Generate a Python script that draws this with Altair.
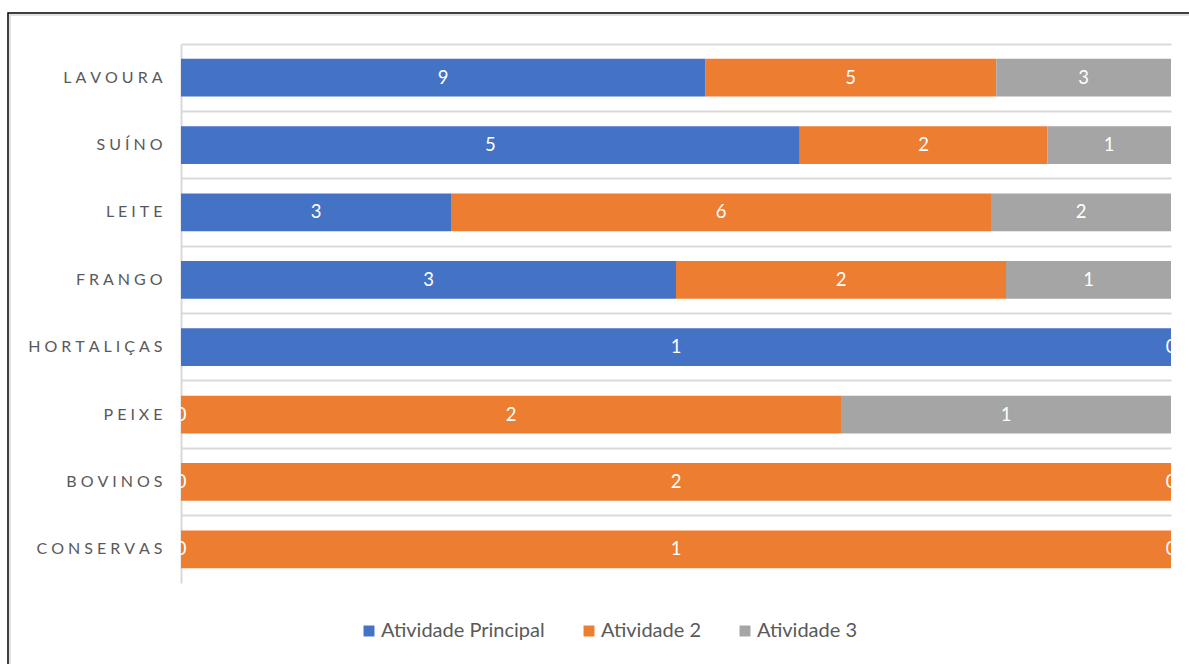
import altair as alt
import pandas as pd

categories = ["LAVOURA", "SUÍNO", "LEITE", "FRANGO", "HORTALIÇAS", "PEIXE", "BOVINOS", "CONSERVAS"]
series = ["Atividade Principal", "Atividade 2", "Atividade 3"]
principal = [9, 5, 3, 3, 1, 0, 0, 0]
atividade2 = [5, 2, 6, 2, None, 2, 2, 1]
atividade3 = [3, 1, 2, 1, 0, 1, 0, 0]
colors = ["#4472C4", "#ED7D31", "#A5A5A5"]

rows = []
for i, c in enumerate(categories):
    for j, (s, vals) in enumerate(zip(series, [principal, atividade2, atividade3])):
        v = vals[i]
        if v is None:
            continue
        rows.append({"cat": c, "serie": s, "ord": j, "value": v})
df = pd.DataFrame(rows)

FONT = "Lato"
GRID = "#D9D9D9"

base = alt.Chart(df).transform_stack(
    stack="value",
    groupby=["cat"],
    as_=["x0", "x1"],
    offset="normalize",
    sort=[alt.SortField("ord", order="ascending")],
).transform_calculate(mid="(datum.x0 + datum.x1) / 2")

y_enc = alt.Y(
    "cat:N",
    sort=categories,
    scale=alt.Scale(paddingInner=0, paddingOuter=0),
    axis=alt.Axis(
        title=None,
        bandPosition=0,
        grid=True,
        gridColor=GRID,
        gridWidth=2,
        domainColor=GRID,
        domainWidth=2,
        ticks=False,
        labelExpr="join(split(datum.label, ''), '\u2009\u2009')",
        labelFont=FONT,
        labelFontSize=16,
        labelColor="#595959",
        labelPadding=19,
    ),
)

bars = base.mark_bar(height={"band": 0.56}).encode(
    y=y_enc,
    x=alt.X(
        "x0:Q",
        scale=alt.Scale(domain=[0, 1], nice=False, zero=True),
        axis=alt.Axis(labels=False, ticks=False, grid=False, title=None,
                      domainColor=GRID, domainWidth=2),
    ),
    x2="x1:Q",
    color=alt.Color(
        "serie:N",
        scale=alt.Scale(domain=series, range=colors),
        legend=alt.Legend(
            title=None,
            orient="none",
            direction="horizontal",
            legendX=178,
            legendY=577,
            padding=0,
            symbolType="square",
            symbolSize=120,
            symbolStrokeWidth=0,
            labelFont=FONT,
            labelFontSize=20,
            labelLimit=400,
            labelColor="#595959",
            labelOffset=2,
            columnPadding=34,
        ),
    ),
)

labels = base.mark_text(color="white", font=FONT, fontSize=18.5, clip=True).encode(
    y=alt.Y("cat:N", sort=categories),
    x=alt.X("mid:Q", axis=None),
    text=alt.Text("value:Q"),
)

frame_data = alt.Data(values=[{"k": 1}])
outer = alt.Chart(frame_data).mark_rect(fillOpacity=0, stroke="#000000", strokeWidth=1.5).encode(
    x=alt.value(-173), x2=alt.value(1200), y=alt.value(-31), y2=alt.value(700)
)
inner = alt.Chart(frame_data).mark_rect(fillOpacity=0, stroke=GRID, strokeWidth=1.5).encode(
    x=alt.value(-171), x2=alt.value(1200), y=alt.value(-29), y2=alt.value(700)
)

chart = alt.layer(inner, outer, bars, labels).properties(
    width=990,
    height=539,
    autosize=alt.AutoSizeParams(type="none"),
    padding={"left": 181, "top": 44, "right": 18, "bottom": 81},
    background="white",
).configure_view(stroke=None)

chart.save("out.html", embed_options={"renderer": "svg", "actions": False})
